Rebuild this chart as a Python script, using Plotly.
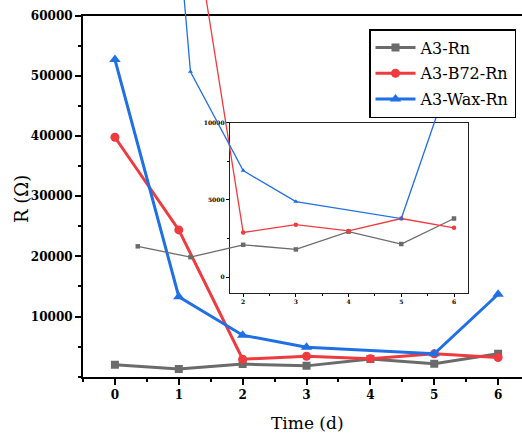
import plotly.graph_objects as go

# Resistance readings over time (days)
days = [0, 1, 2, 3, 4, 5, 6]
r_a3 = [2000, 1300, 2100, 1800, 2950, 2150, 3800]
r_b72 = [39800, 24400, 2900, 3400, 3000, 3800, 3200]
r_wax = [52700, 13300, 6900, 4900, None, 3800, 13700]

series_names = ["A3-Rn", "A3-B72-Rn", "A3-Wax-Rn"]
series_values = [r_a3, r_b72, r_wax]
colors = ["#6B6B6B", "#EF3B3F", "#1F6FE5"]
symbols = ["square", "circle", "triangle-up"]
main_sizes = [8, 9, 10]

main_y_ticks = [10000, 20000, 30000, 40000, 50000, 60000]
inset_y_ticks = [0, 5000, 10000]

W, H = 522, 437
SERIF = "DejaVu Serif"


def px_x(p):
    return p / W


def px_y(p):
    return 1 - p / H


# main plot area
main_xdom = [px_x(83), 1.0]
main_ydom = [px_y(376.7), px_y(15.7)]
main_xrange = [-0.5, (522 - 114.7) / 63.9]
main_yrange = [0, 60000]

# inset frame
ins_xdom = [px_x(230), px_x(467.7)]
ins_ydom = [px_y(292.7), px_y(122.7)]
ins_xrange = [1.75, 6.26]
ins_yrange = [-1000, 10000]


def full_range(dom, rng):
    # extend an inset range over the whole paper so lines can run past the frame
    span = (rng[1] - rng[0]) / (dom[1] - dom[0])
    return [rng[0] - dom[0] * span, rng[1] + (1 - dom[1]) * span]


fig = go.Figure()

for name, vals, col, sym, sz in zip(series_names, series_values, colors, symbols, main_sizes):
    fig.add_trace(go.Scatter(
        x=days, y=vals, name=name, mode="lines+markers",
        line=dict(color=col, width=3),
        marker=dict(symbol=sym, size=sz, color=col),
        connectgaps=True, legendgroup=name, xaxis="x", yaxis="y",
    ))

# empty trace so the inset frame subplot exists
fig.add_trace(go.Scatter(x=[], y=[], xaxis="x2", yaxis="y2", showlegend=False))

for name, vals, col, sym in zip(series_names, series_values, colors, symbols):
    fig.add_trace(go.Scatter(
        x=days, y=vals, name=name, mode="lines+markers",
        line=dict(color=col, width=1.3),
        marker=dict(symbol=sym, size=4.5, color=col),
        connectgaps=True, showlegend=False, cliponaxis=False,
        xaxis="x3", yaxis="y3",
    ))

tick_font = dict(family=SERIF, size=12, color="black", weight="bold")
small_font = dict(family=SERIF, size=6, color="black", weight="bold")

fig.update_layout(
    width=W, height=H,
    autosize=False,
    font=dict(family=SERIF),
    margin=dict(l=0, r=0, t=0, b=0, pad=0, autoexpand=False),
    paper_bgcolor="white",
    plot_bgcolor="rgba(0,0,0,0)",
    showlegend=True,
    legend=dict(
        x=px_x(369), y=px_y(29), xanchor="left", yanchor="top",
        bgcolor="white", bordercolor="black", borderwidth=1.5,
        font=dict(family=SERIF, size=16, color="black"),
        itemwidth=40, tracegroupgap=2,
    ),
    xaxis=dict(
        domain=main_xdom, range=main_xrange, anchor="y", automargin=False,
        tickmode="linear", tick0=0, dtick=1,
        ticks="outside", ticklen=6, tickwidth=2, tickcolor="black",
        showline=True, linewidth=2, linecolor="black", mirror=True,
        showgrid=False, zeroline=False, tickfont=tick_font,
        minor=dict(tickmode="linear", tick0=0, dtick=0.5, ticks="outside",
                   ticklen=3.5, tickwidth=2, tickcolor="black", showgrid=False),
    ),
    yaxis=dict(
        domain=main_ydom, range=main_yrange, anchor="x", automargin=False,
        tickmode="array", tickvals=main_y_ticks, tickformat="d",
        ticks="outside", ticklen=6, tickwidth=2, tickcolor="black",
        showline=True, linewidth=2, linecolor="black",
        showgrid=False, zeroline=False, tickfont=tick_font,
        minor=dict(tickmode="linear", tick0=0, dtick=5000, ticks="outside",
                   ticklen=3.5, tickwidth=2, tickcolor="black", showgrid=False),
    ),
    xaxis2=dict(
        domain=ins_xdom, range=ins_xrange, anchor="y2", automargin=False,
        tickmode="linear", tick0=0, dtick=1,
        ticks="outside", ticklen=3, tickwidth=1, tickcolor="black",
        showline=True, linewidth=1.3, linecolor="#222222", mirror=True,
        showgrid=False, zeroline=False, tickfont=small_font,
        minor=dict(tickmode="linear", tick0=0, dtick=0.5, ticks="outside",
                   ticklen=2, tickwidth=1, tickcolor="black", showgrid=False),
    ),
    yaxis2=dict(
        domain=ins_ydom, range=ins_yrange, anchor="x2", automargin=False,
        tickmode="array", tickvals=inset_y_ticks, tickformat="d",
        ticks="outside", ticklen=3, tickwidth=1, tickcolor="black",
        showline=True, linewidth=1.3, linecolor="#222222", mirror=True,
        showgrid=False, zeroline=False, tickfont=small_font,
        minor=dict(tickmode="linear", tick0=0, dtick=2500, ticks="outside",
                   ticklen=2, tickwidth=1, tickcolor="black", showgrid=False),
    ),
    xaxis3=dict(domain=[0, 1], range=full_range(ins_xdom, ins_xrange),
                anchor="y3", visible=False, automargin=False),
    yaxis3=dict(domain=[0, 1], range=full_range(ins_ydom, ins_yrange),
                anchor="x3", visible=False, automargin=False),
    annotations=[
        dict(text="Time (d)", x=px_x(307), y=px_y(423), xref="paper", yref="paper",
             showarrow=False, xanchor="center", yanchor="middle",
             font=dict(family=SERIF, size=17, color="black")),
        dict(text="R (Ω)", x=px_x(21), y=px_y(199), xref="paper", yref="paper",
             showarrow=False, xanchor="center", yanchor="middle", textangle=-90,
             font=dict(family=SERIF, size=18, color="black")),
    ],
)

fig.write_html("out.html")
